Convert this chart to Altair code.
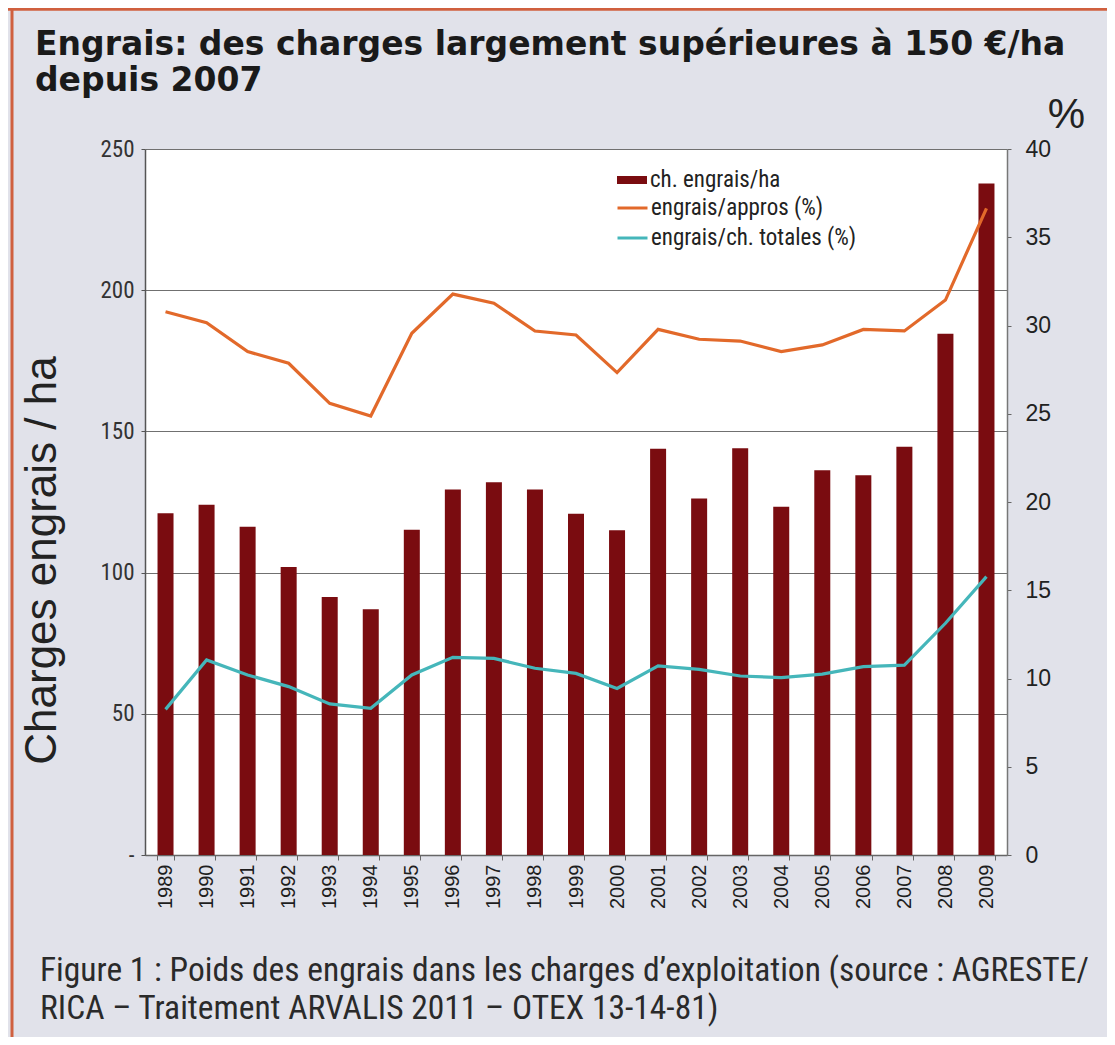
import altair as alt
import pandas as pd

years = [str(y) for y in range(1989, 2010)]
charges_ha = [121, 124, 116.2, 102, 91.4, 87, 115.2, 129.4, 132, 129.4, 120.8, 115,
              143.9, 126.2, 144, 123.3, 136.2, 134.5, 144.6, 184.6, 237.8]
engrais_appros = [30.78, 30.16, 28.52, 27.86, 25.59, 24.87, 29.56, 31.78, 31.26, 29.69, 29.46,
                  27.33, 29.78, 29.22, 29.12, 28.52, 28.90, 29.78, 29.69, 31.44, 36.64]
engrais_totales = [8.25, 11.05, 10.2, 9.54, 8.56, 8.31, 10.2, 11.2, 11.14, 10.58, 10.29,
                   9.44, 10.72, 10.52, 10.14, 10.05, 10.25, 10.67, 10.76, 13.13, 15.77]

bar_name = "ch. engrais/ha"
line_names = ["engrais/appros (%)", "engrais/ch. totales (%)"]
title_lines = ["Engrais: des charges largement supérieures à 150 €/ha", "depuis 2007"]
caption_lines = ["Figure 1 : Poids des engrais dans les charges d\u2019exploitation (source : AGRESTE/",
                 "RICA \u2013 Traitement ARVALIS 2011 \u2013 OTEX 13-14-81)"]
y_left_title = "Charges engrais / ha"
y_right_title = "%"

BAR_COLOR = "#7a0c10"
ORANGE = "#e2692a"
TEAL = "#45b6ba"
NARROW = "'Liberation Sans Narrow', 'Roboto Condensed', 'Liberation Sans', sans-serif"
SANS = "Liberation Sans"

bars_df = pd.DataFrame({"year": years, "charge": charges_ha, "serie": bar_name})
lines_df = pd.concat([
    pd.DataFrame({"year": years, "pct": engrais_appros, "serie": line_names[0]}),
    pd.DataFrame({"year": years, "pct": engrais_totales, "serie": line_names[1]}),
])

x_enc = alt.X("year:N", sort=years,
              scale=alt.Scale(type="band", paddingInner=0.6, paddingOuter=0.3),
              axis=alt.Axis(title=None, labelAngle=270, labelAlign="right", labelBaseline="middle",
                            labelFont=SANS, labelFontSize=20, labelColor="#1e1e1e",
                            labelPadding=4, tickBand="extent", tickSize=5, tickColor="#666",
                            domainColor="#666", domainWidth=1.5))

bars = alt.Chart(bars_df).mark_bar(size=16).encode(
    x=x_enc,
    y=alt.Y("charge:Q", scale=alt.Scale(domain=[0, 250], nice=False),
            axis=alt.Axis(values=[0, 50, 100, 150, 200, 250], grid=True, gridColor="#707070",
                          gridWidth=1.2, labelFont=NARROW, labelFontSize=23, labelColor="#333",
                          labelExpr="datum.value == 0 ? '-' : datum.label",
                          tickSize=4, tickColor="#555", labelPadding=7,
                          domainColor="#555", domainWidth=1.5,
                          title=y_left_title, titleFont=SANS, titleFontSize=44,
                          titleFontWeight="normal", titleColor="#222", titleAngle=270,
                          titleX=-103, titleY=411, titleAlign="center", titleBaseline="middle")),
    color=alt.Color("serie:N", scale=alt.Scale(domain=[bar_name], range=[BAR_COLOR]),
                    legend=alt.Legend(title=None, orient="none", legendX=471, legendY=17,
                                      symbolType="M-1,-0.27L1,-0.27L1,0.27L-1,0.27Z",
                                      symbolSize=900, symbolOpacity=1, clipHeight=28,
                                      labelFont=NARROW, labelFontSize=23, labelColor="#222",
                                      labelOffset=2, labelLimit=400)),
)

lines = alt.Chart(lines_df).mark_line(strokeWidth=3.2).encode(
    x=alt.X("year:N", sort=years),
    y=alt.Y("pct:Q", scale=alt.Scale(domain=[0, 40], nice=False),
            axis=alt.Axis(orient="right", values=list(range(0, 41, 5)), grid=False,
                          labelFont=SANS, labelFontSize=23, labelColor="#222",
                          tickSize=4, tickColor="#666", labelPadding=14,
                          domainColor="#777", domainWidth=1.5,
                          title=y_right_title, titleFont=SANS, titleFontSize=42,
                          titleFontWeight="normal", titleColor="#222", titleAngle=0,
                          titleX=59, titleY=-22, titleAlign="center",
                          titleBaseline="alphabetic")),
    stroke=alt.Stroke("serie:N", scale=alt.Scale(domain=line_names, range=[ORANGE, TEAL]),
                      legend=alt.Legend(title=None, orient="none", legendX=471, legendY=45,
                                        symbolType="stroke", symbolSize=900,
                                        symbolStrokeWidth=3, clipHeight=28, symbolOpacity=1,
                                        labelFont=NARROW, labelFontSize=23, labelColor="#222",
                                        labelOffset=2, labelLimit=400)),
)

one = pd.DataFrame({"k": [0]})

title = alt.Chart(one).mark_text(
    text=title_lines, align="left", baseline="alphabetic", font="DejaVu Sans",
    fontSize=33, fontWeight="bold", lineHeight=36, color="#1a1a1a",
).encode(x=alt.value(-110), y=alt.value(-94))

caption = alt.Chart(one).mark_text(
    text=caption_lines, align="left", baseline="alphabetic", font=NARROW,
    fontSize=33.5, lineHeight=38, color="#2a2a2a",
).encode(x=alt.value(-105), y=alt.value(832))

frame_top = alt.Chart(one).mark_rule(color="#d0603f", strokeWidth=3.5).encode(
    x=alt.value(-137), x2=alt.value(962), y=alt.value(-140))
frame_left = alt.Chart(one).mark_rule(color="#d0603f", strokeWidth=3).encode(
    x=alt.value(-133), y=alt.value(-141), y2=alt.value(888))

chart = alt.layer(bars, lines, title, caption, frame_top, frame_left).resolve_scale(
    y="independent", color="independent"
).properties(
    width=862, height=706,
    autosize=alt.AutoSizeParams(type="none"),
    padding={"left": 137, "top": 141, "right": 100, "bottom": 182},
    background="#e1e2ea",
).configure_view(fill="white", stroke=None)

chart.save("out.html", embed_options={"renderer": "svg", "actions": False})
